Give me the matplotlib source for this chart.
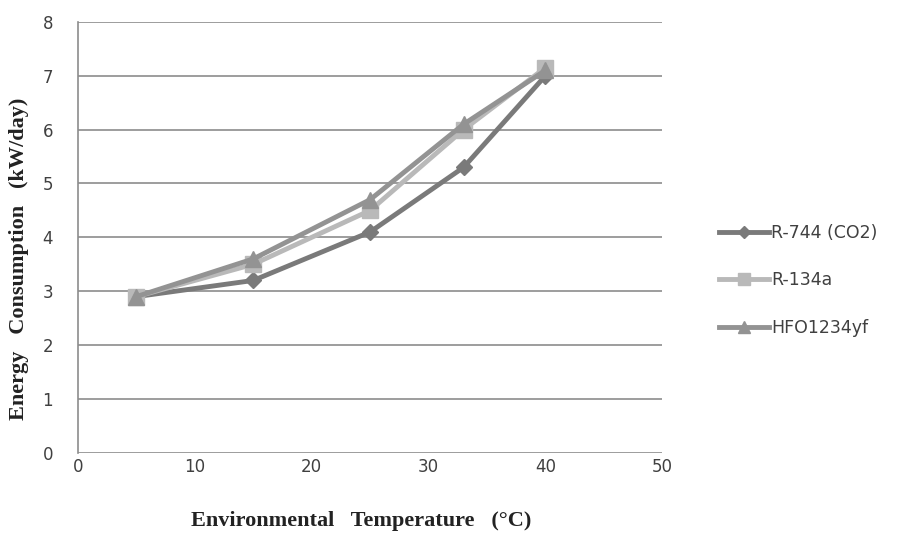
import matplotlib.pyplot as plt

# 環境温度 (°C)
temps = [5, 15, 25, 33, 40]
# 各冷媒のエネルギー消費量
r744 = [2.9, 3.2, 4.1, 5.3, 7.0]
r134a = [2.9, 3.5, 4.5, 6.0, 7.15]
hfo = [2.9, 3.6, 4.7, 6.1, 7.1]
names = ['R-744 (CO2)', 'R-134a', 'HFO1234yf']
yticks = list(range(0, 9))
xticks = list(range(0, 51, 10))

fig = plt.figure(figsize=(9.06, 5.34), dpi=100)
ax = fig.add_axes([0.086, 0.152, 0.645, 0.807])

ax.plot(temps, r744, color='#7a7a7a', lw=3.5, marker='D', ms=8, label=names[0], zorder=3)
ax.plot(temps, r134a, color='#b9b9b9', lw=3.5, marker='s', ms=11, label=names[1], zorder=4)
ax.plot(temps, hfo, color='#939393', lw=3.5, marker='^', ms=12, label=names[2], zorder=5)

ax.set_xlim(0, 50)
ax.set_ylim(0, 8)
ax.set_xticks(xticks)
ax.set_yticks(yticks)
ax.yaxis.grid(True, color='#8c8c8c', lw=1.2)
ax.set_axisbelow(True)
for s in ['top', 'right', 'bottom']:
    ax.spines[s].set_visible(False)
ax.spines['left'].set_color('#8c8c8c')
ax.spines['left'].set_linewidth(1.2)
ax.tick_params(length=0, labelsize=12, colors='#404040')
ax.tick_params(axis='x', pad=4)
ax.tick_params(axis='y', pad=18)

ax.set_xlabel('Environmental   Temperature   (°C)', fontsize=16, fontweight='bold',
              family='Liberation Serif', color='#222222')
ax.set_ylabel('Energy   Consumption   (kW/day)', fontsize=16, fontweight='bold',
              family='Liberation Serif', color='#222222')
ax.xaxis.set_label_coords(0.485, -0.135)
ax.yaxis.set_label_coords(-0.083, 0.45)

ax.legend(loc='center left', bbox_to_anchor=(1.07, 0.40), frameon=False,
          fontsize=12.5, labelspacing=1.7, handlelength=2.9, handletextpad=0.1,
          markerscale=0.75, labelcolor='#404040')

fig.savefig('out.png', dpi=100)
